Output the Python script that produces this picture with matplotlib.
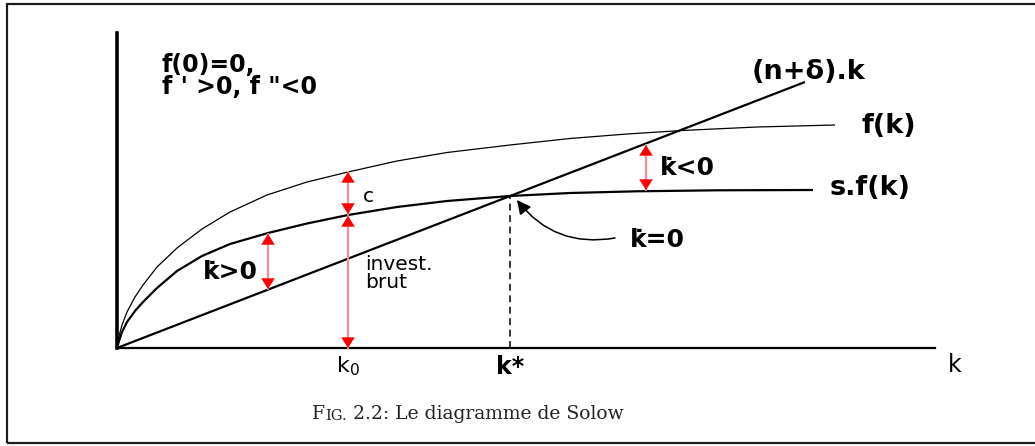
import numpy as np
import matplotlib.pyplot as plt
from matplotlib.patches import Rectangle

# production per worker f(k) and savings s.f(k), same units on both axes
f_k = [0, 0.02, 0.05, 0.10, 0.18, 0.26, 0.40, 0.60, 0.85, 1.13, 1.50, 1.90, 2.31, 2.80,
       3.30, 3.93, 4.53, 5.10, 5.65, 6.40, 7.18]
f_vals = [0, 0.12, 0.23, 0.36, 0.51, 0.63, 0.81, 1.00, 1.19, 1.36, 1.53, 1.66, 1.76, 1.87,
          1.955, 2.03, 2.095, 2.14, 2.175, 2.21, 2.23]

sf_k = [0, 0.02, 0.05, 0.10, 0.18, 0.26, 0.40, 0.60, 0.85, 1.13, 1.51, 1.90, 2.31, 2.80,
        3.30, 3.93, 4.53, 5.20, 6.00, 6.96]
sf_vals = [0, 0.07, 0.16, 0.26, 0.37, 0.46, 0.60, 0.77, 0.92, 1.04, 1.15, 1.245, 1.33, 1.41,
           1.47, 1.52, 1.55, 1.567, 1.577, 1.58]

# break-even investment (n+delta).k
line_k = [0, 6.88]
line_vals = [0, 2.66]

k0 = 2.31
kstar = 3.93
kstar_val = 1.52

# red double arrows: (k, top, bottom)
gaps = [(k0, 1.76, 1.34), (k0, 1.32, 0.0), (1.51, 1.14, 0.59), (5.29, 2.03, 1.58)]

W, H = 1035, 446
fig = plt.figure(figsize=(W / 100, H / 100), dpi=100)
fig.patch.set_facecolor('white')

# page frame (open on the right)
fig.add_artist(Rectangle((7 / W, 3 / H), 1.2, 439 / H, transform=fig.transFigure,
                         fill=False, edgecolor='#1e1e1e', lw=1.6))

ax = fig.add_axes([117 / W, (H - 348) / H, (935 - 117) / W, (348 - 33) / H])
ax.set_xlim(0, 8.18)
ax.set_ylim(0, 3.15)
for s in ['top', 'right']:
    ax.spines[s].set_visible(False)
ax.spines['left'].set_linewidth(2.6)
ax.spines['bottom'].set_linewidth(1.6)
ax.set_xticks([])
ax.set_yticks([])

ax.plot(f_k, f_vals, color='black', lw=0.9, clip_on=False, solid_capstyle='butt')
ax.plot(sf_k, sf_vals, color='black', lw=1.6, clip_on=False, solid_capstyle='butt')
ax.plot(line_k, line_vals, color='black', lw=1.6, clip_on=False, solid_capstyle='butt')
ax.plot([kstar, kstar], [0, kstar_val], color='black', lw=1.1, ls=(0, (4.5, 3)))

for k, top, bot in gaps:
    ax.annotate('', xy=(k, top), xytext=(k, bot),
                arrowprops=dict(arrowstyle='-', color='#ff8c8c', lw=1.6,
                                shrinkA=0, shrinkB=0))
    ax.annotate('', xy=(k, top), xytext=(k, bot),
                arrowprops=dict(arrowstyle='<|-|>,head_length=0.55,head_width=0.35',
                                mutation_scale=14, color='red', lw=0,
                                shrinkA=0, shrinkB=0), annotation_clip=False)

# steady state pointer
ax.annotate('', xy=(4.00, 1.48), xytext=(4.98, 1.10),
            arrowprops=dict(arrowstyle='-|>,head_length=0.6,head_width=0.3',
                            mutation_scale=14, color='black', lw=1.1,
                            connectionstyle='arc3,rad=-0.3', shrinkA=0, shrinkB=0))

bold = dict(family='DejaVu Sans', fontweight='bold', color='black')
ax.text(0.45, 2.95, "f(0)=0,\nf ' >0, f \"<0", fontsize=17, va='top', ha='left',
        linespacing=0.92, **bold)
ax.text(6.35, 2.76, '(n+\u03b4).k', fontsize=19.5, va='center', ha='left', **bold)
ax.text(7.45, 2.22, 'f(k)', fontsize=19.5, va='center', ha='left', **bold)
ax.text(7.13, 1.60, 's.f(k)', fontsize=19.5, va='center', ha='left', **bold)
ax.text(5.43, 1.80, 'k\u0307<0', fontsize=18, va='center', ha='left', **bold)
ax.text(5.13, 1.08, 'k\u0307=0', fontsize=18, va='center', ha='left', **bold)
ax.text(0.86, 0.76, 'k\u0307>0', fontsize=18, va='center', ha='left', **bold)

ax.text(2.46, 1.52, 'c', fontsize=14.5, va='center', ha='left')
ax.text(2.48, 0.93, 'invest.\nbrut', fontsize=14.5, va='top', ha='left', linespacing=0.95)

ax.text(k0, -0.18, r'$\mathregular{k_0}$', fontsize=16, va='center', ha='center',
        clip_on=False)
ax.text(kstar, -0.19, 'k*', fontsize=17, va='center', ha='center', clip_on=False, **bold)
ax.text(8.38, -0.17, 'k', fontsize=17, va='center', ha='center', clip_on=False)

# caption with small capitals
serif = dict(family='DejaVu Serif', color='#222222')
t1 = fig.text(312 / W, (H - 423) / H, 'F', fontsize=13.5, va='bottom', ha='left', **serif)
t2 = ax.annotate('IG.', xy=(1, 0), xycoords=t1, fontsize=10.5, va='bottom', ha='left',
                 annotation_clip=False, **serif)
ax.annotate(' 2.2: Le diagramme de Solow', xy=(1, 0), xycoords=t2, fontsize=13.5,
            va='bottom', ha='left', annotation_clip=False, **serif)

fig.savefig('out.png', dpi=100)
